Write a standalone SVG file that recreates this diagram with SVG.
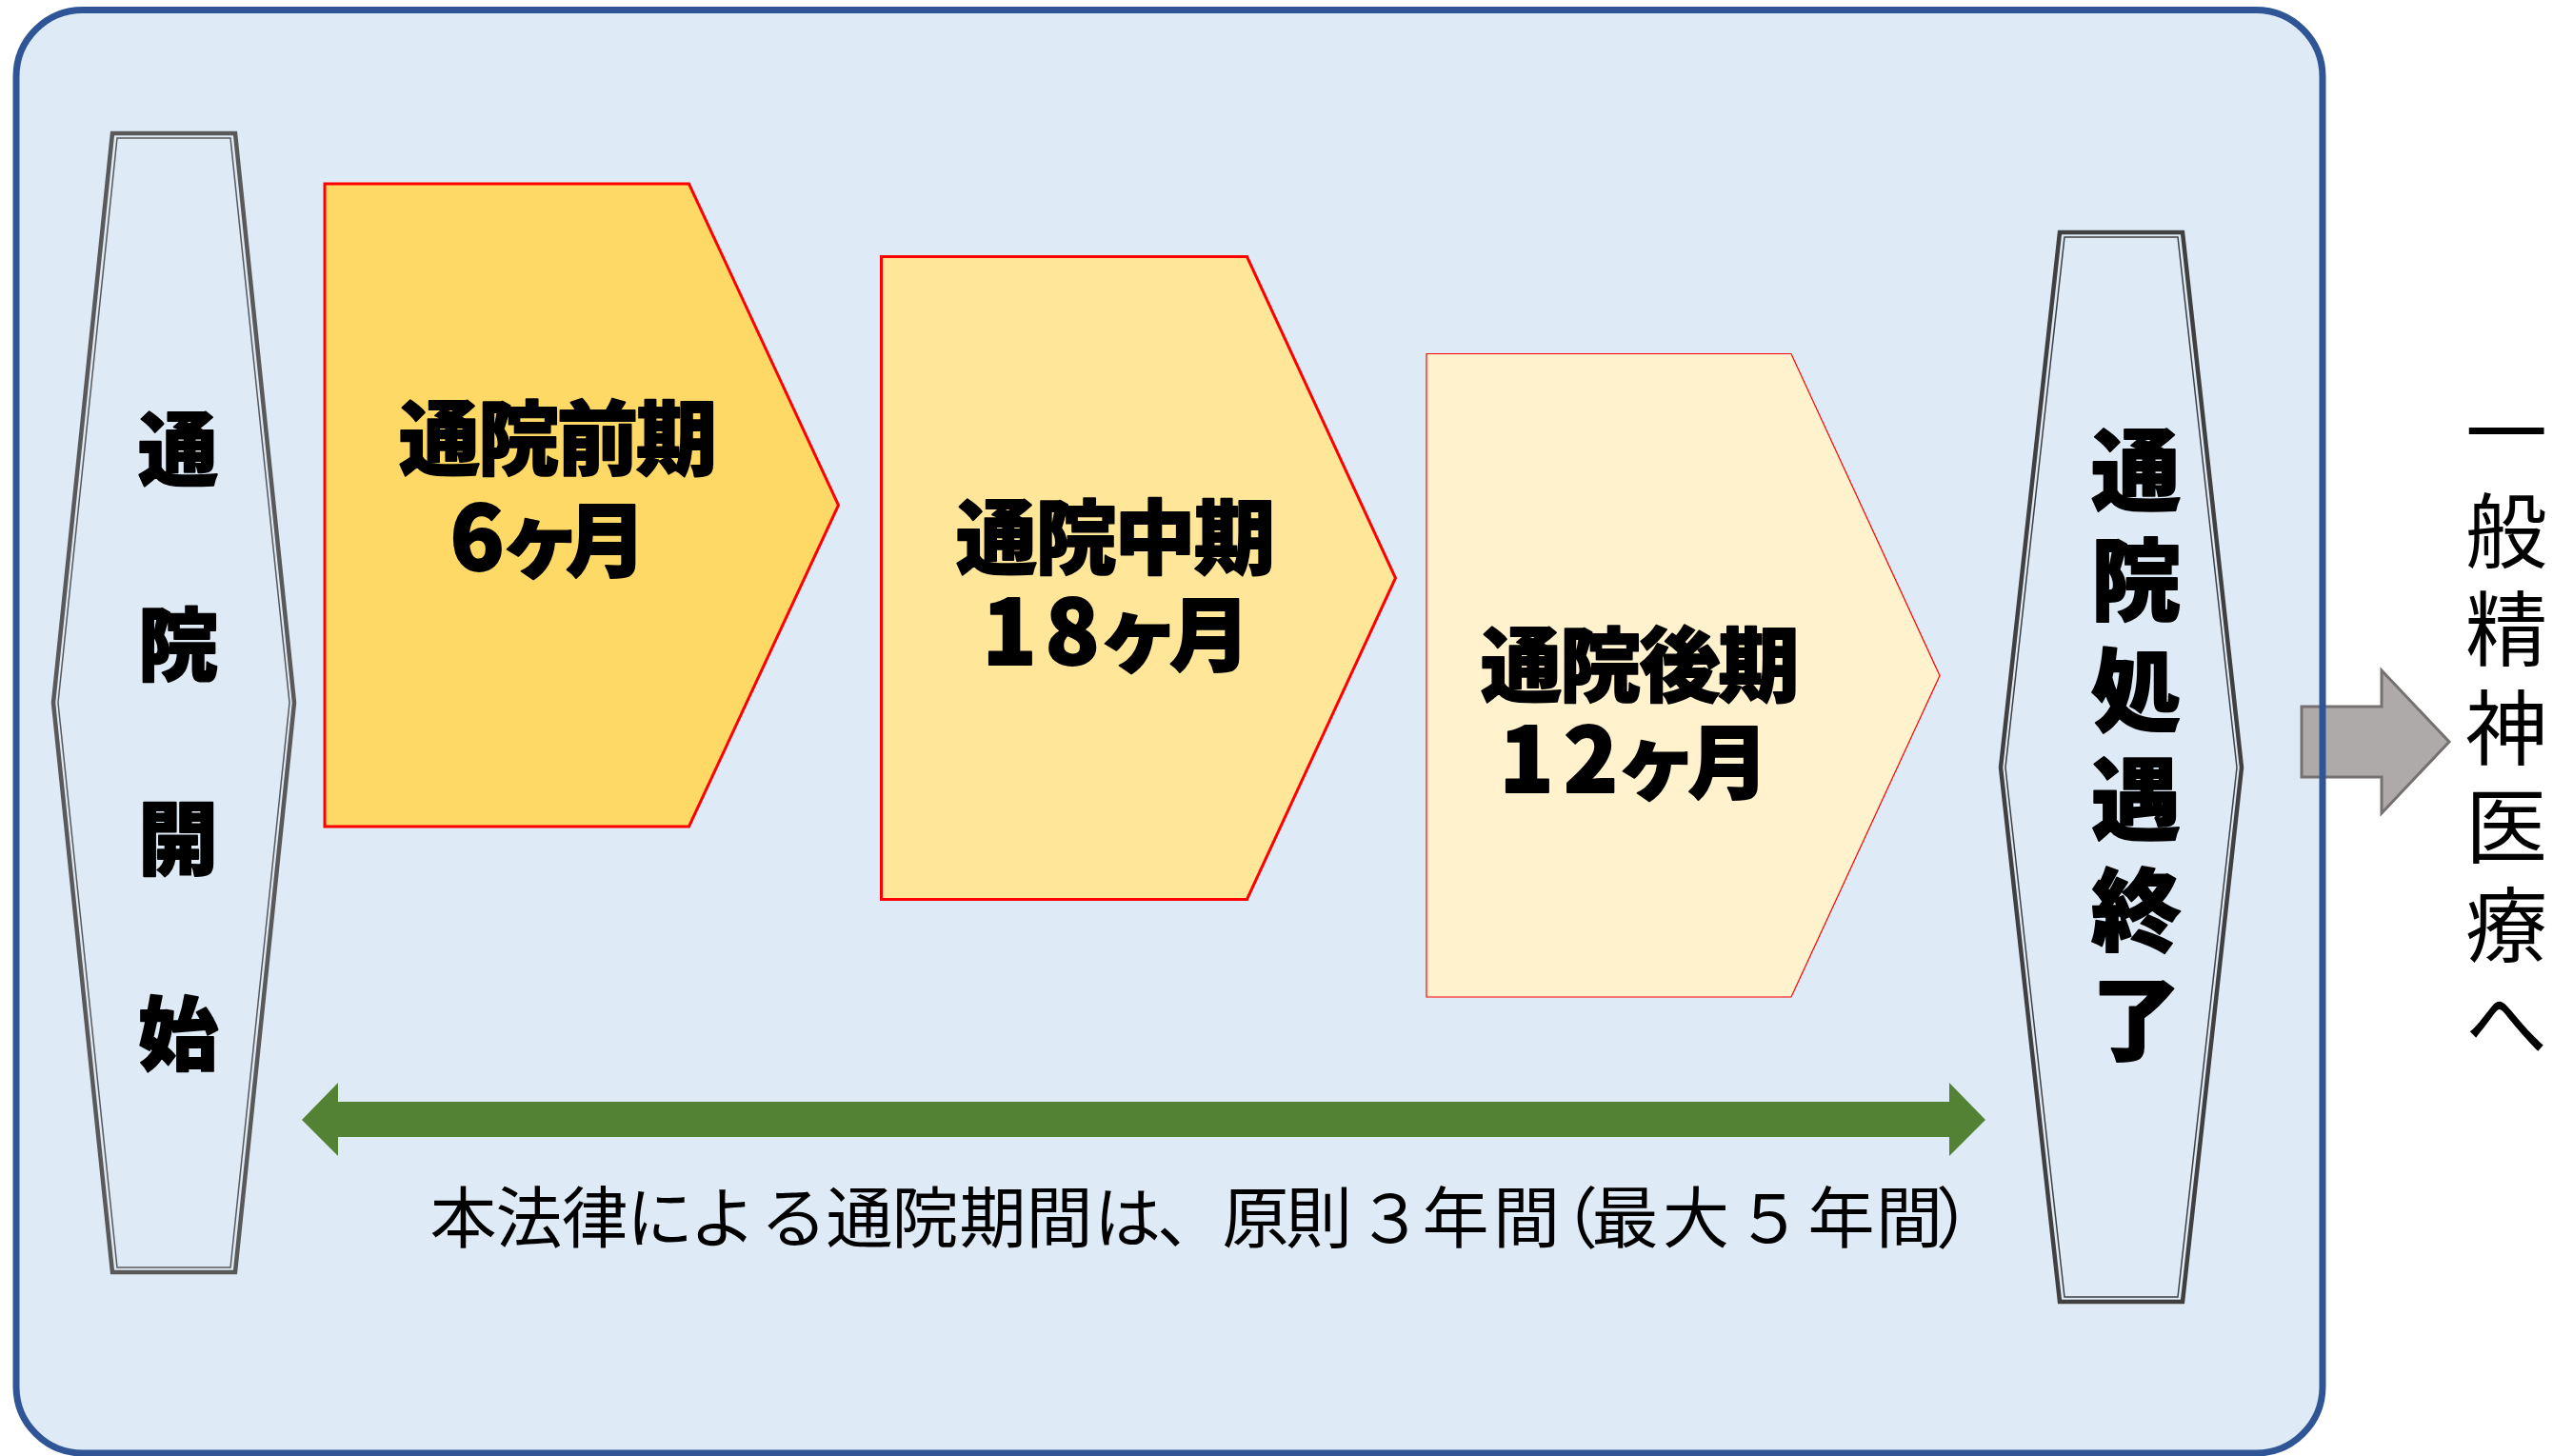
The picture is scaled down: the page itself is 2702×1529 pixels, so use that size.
<svg xmlns="http://www.w3.org/2000/svg" width="2702" height="1529" viewBox="0 0 2702 1529">
<style>
.b{font-family:"Noto Sans CJK JP","Noto Sans CJK SC",sans-serif;font-weight:900;fill:#000;stroke:#000;stroke-width:1.8;stroke-linejoin:round;text-anchor:middle}
.r{font-family:"Noto Sans CJK JP","Noto Sans CJK SC",sans-serif;font-weight:400;fill:#000;text-anchor:middle}
.dg{font-size:94px}
.hexL{fill:none;stroke:#595959}
.hexR{fill:none;stroke:#404040}
.outer{stroke-width:4.5}
.inner{stroke-width:1.5}
.pent{stroke:#FF0000;stroke-linejoin:miter}
</style>
<rect x="0" y="0" width="2702" height="1529" fill="#FFFFFF"/>
<g id="frame">
<rect x="17" y="10.5" width="2422" height="1515.5" rx="70" ry="70" fill="#DEEBF7"/>
</g>
<g id="connectors">
<polygon id="exit-arrow" points="2417,742 2501,742 2501,704 2572,779 2501,854 2501,816 2417,816" fill="#AEAAAA" stroke="#767171" stroke-width="3"/>
<polygon id="period-arrow" points="317,1176 355,1137 355,1157 2047,1157 2047,1137 2085,1176 2047,1214 2047,1194 355,1194 355,1214" fill="#548235"/>
</g>
<g id="frame-border">
<rect x="17" y="10.5" width="2422" height="1515.5" rx="70" ry="70" fill="none" stroke="#2F5597" stroke-width="7"/>
</g>
<g id="start">
<polygon class="hexL outer" points="118,140 247,140 309,738 247,1336 118,1336 56,738"/>
<polygon class="hexL inner" points="123,145 242,145 304,738 242,1331 123,1331 61,738"/>
<text class="b" font-size="84"><tspan x="187" y="503">通</tspan><tspan x="187" y="707.5">院</tspan><tspan x="187" y="912">開</tspan><tspan x="187" y="1116.5">始</tspan></text>
</g>
<g id="early">
<polygon class="pent" points="341,193 723.5,193 880.5,530.5 723.5,868 341,868" fill="#FFD966" stroke-width="3"/>
<text class="b" font-size="85" y="492"><tspan x="461.5">通</tspan><tspan x="544.5">院</tspan><tspan x="627.5">前</tspan><tspan x="710.5">期</tspan></text>
<text class="b" font-size="85" y="599"><tspan x="501" class="dg">6</tspan><tspan x="568">ヶ</tspan><tspan x="636.5">月</tspan></text>
</g>
<g id="middle">
<polygon class="pent" points="925.5,269.5 1309.5,269.5 1465.5,607 1309.5,944.5 925.5,944.5" fill="#FFE699" stroke-width="3"/>
<text class="b" font-size="85" y="596"><tspan x="1046.6">通</tspan><tspan x="1129.9">院</tspan><tspan x="1213.1">中</tspan><tspan x="1296.4">期</tspan></text>
<text class="b" font-size="85" y="698"><tspan x="1060" class="dg">1</tspan><tspan x="1126" class="dg">8</tspan><tspan x="1196">ヶ</tspan><tspan x="1270.6">月</tspan></text>
</g>
<g id="late">
<polygon class="pent" points="1498,371.5 1881,371.5 2037,709.5 1881,1047 1498,1047" fill="#FFF2CC" stroke-width="1.2"/>
<text class="b" font-size="85" y="730"><tspan x="1597.4">通</tspan><tspan x="1680.6">院</tspan><tspan x="1763.9">後</tspan><tspan x="1847.1">期</tspan></text>
<text class="b" font-size="85" y="832"><tspan x="1603" class="dg">1</tspan><tspan x="1670.5" class="dg">2</tspan><tspan x="1740">ヶ</tspan><tspan x="1815">月</tspan></text>
</g>
<g id="end">
<polygon class="hexR outer" points="2163,244 2292,244 2354,806 2292,1367 2163,1367 2101,806"/>
<polygon class="hexR inner" points="2168,249 2287,249 2349,806 2287,1362 2168,1362 2106,806"/>
<text class="b" font-size="94"><tspan x="2243" y="528.5">通</tspan><tspan x="2243" y="644">院</tspan><tspan x="2243" y="759.5">処</tspan><tspan x="2243" y="875">遇</tspan><tspan x="2243" y="990.5">終</tspan><tspan x="2243" y="1106">了</tspan></text>
</g>
<g id="period-label">
<text class="r" font-size="70" y="1305"><tspan x="486.5">本</tspan><tspan x="555.5">法</tspan><tspan x="624.5">律</tspan><tspan x="693">に</tspan><tspan x="759">よ</tspan><tspan x="833.5">る</tspan><tspan x="902.5">通</tspan><tspan x="971.5">院</tspan><tspan x="1042.5">期</tspan><tspan x="1112.5">間</tspan><tspan x="1184">は</tspan><tspan x="1250">、</tspan><tspan x="1318.5">原</tspan><tspan x="1385">則</tspan><tspan x="1460">３</tspan><tspan x="1528.5">年</tspan><tspan x="1603">間</tspan><tspan x="1643">（</tspan><tspan x="1706.5">最</tspan><tspan x="1781">大</tspan><tspan x="1858">５</tspan><tspan x="1933.5">年</tspan><tspan x="2005">間</tspan><tspan x="2068">）</tspan></text>
</g>
<g id="next">
<text class="r" font-size="86"><tspan x="2632" y="486">一</tspan><tspan x="2632" y="589.5">般</tspan><tspan x="2632" y="693">精</tspan><tspan x="2632" y="796.5">神</tspan><tspan x="2632" y="900">医</tspan><tspan x="2632" y="1003.5">療</tspan><tspan x="2632" y="1107">へ</tspan></text>
</g>
</svg>
